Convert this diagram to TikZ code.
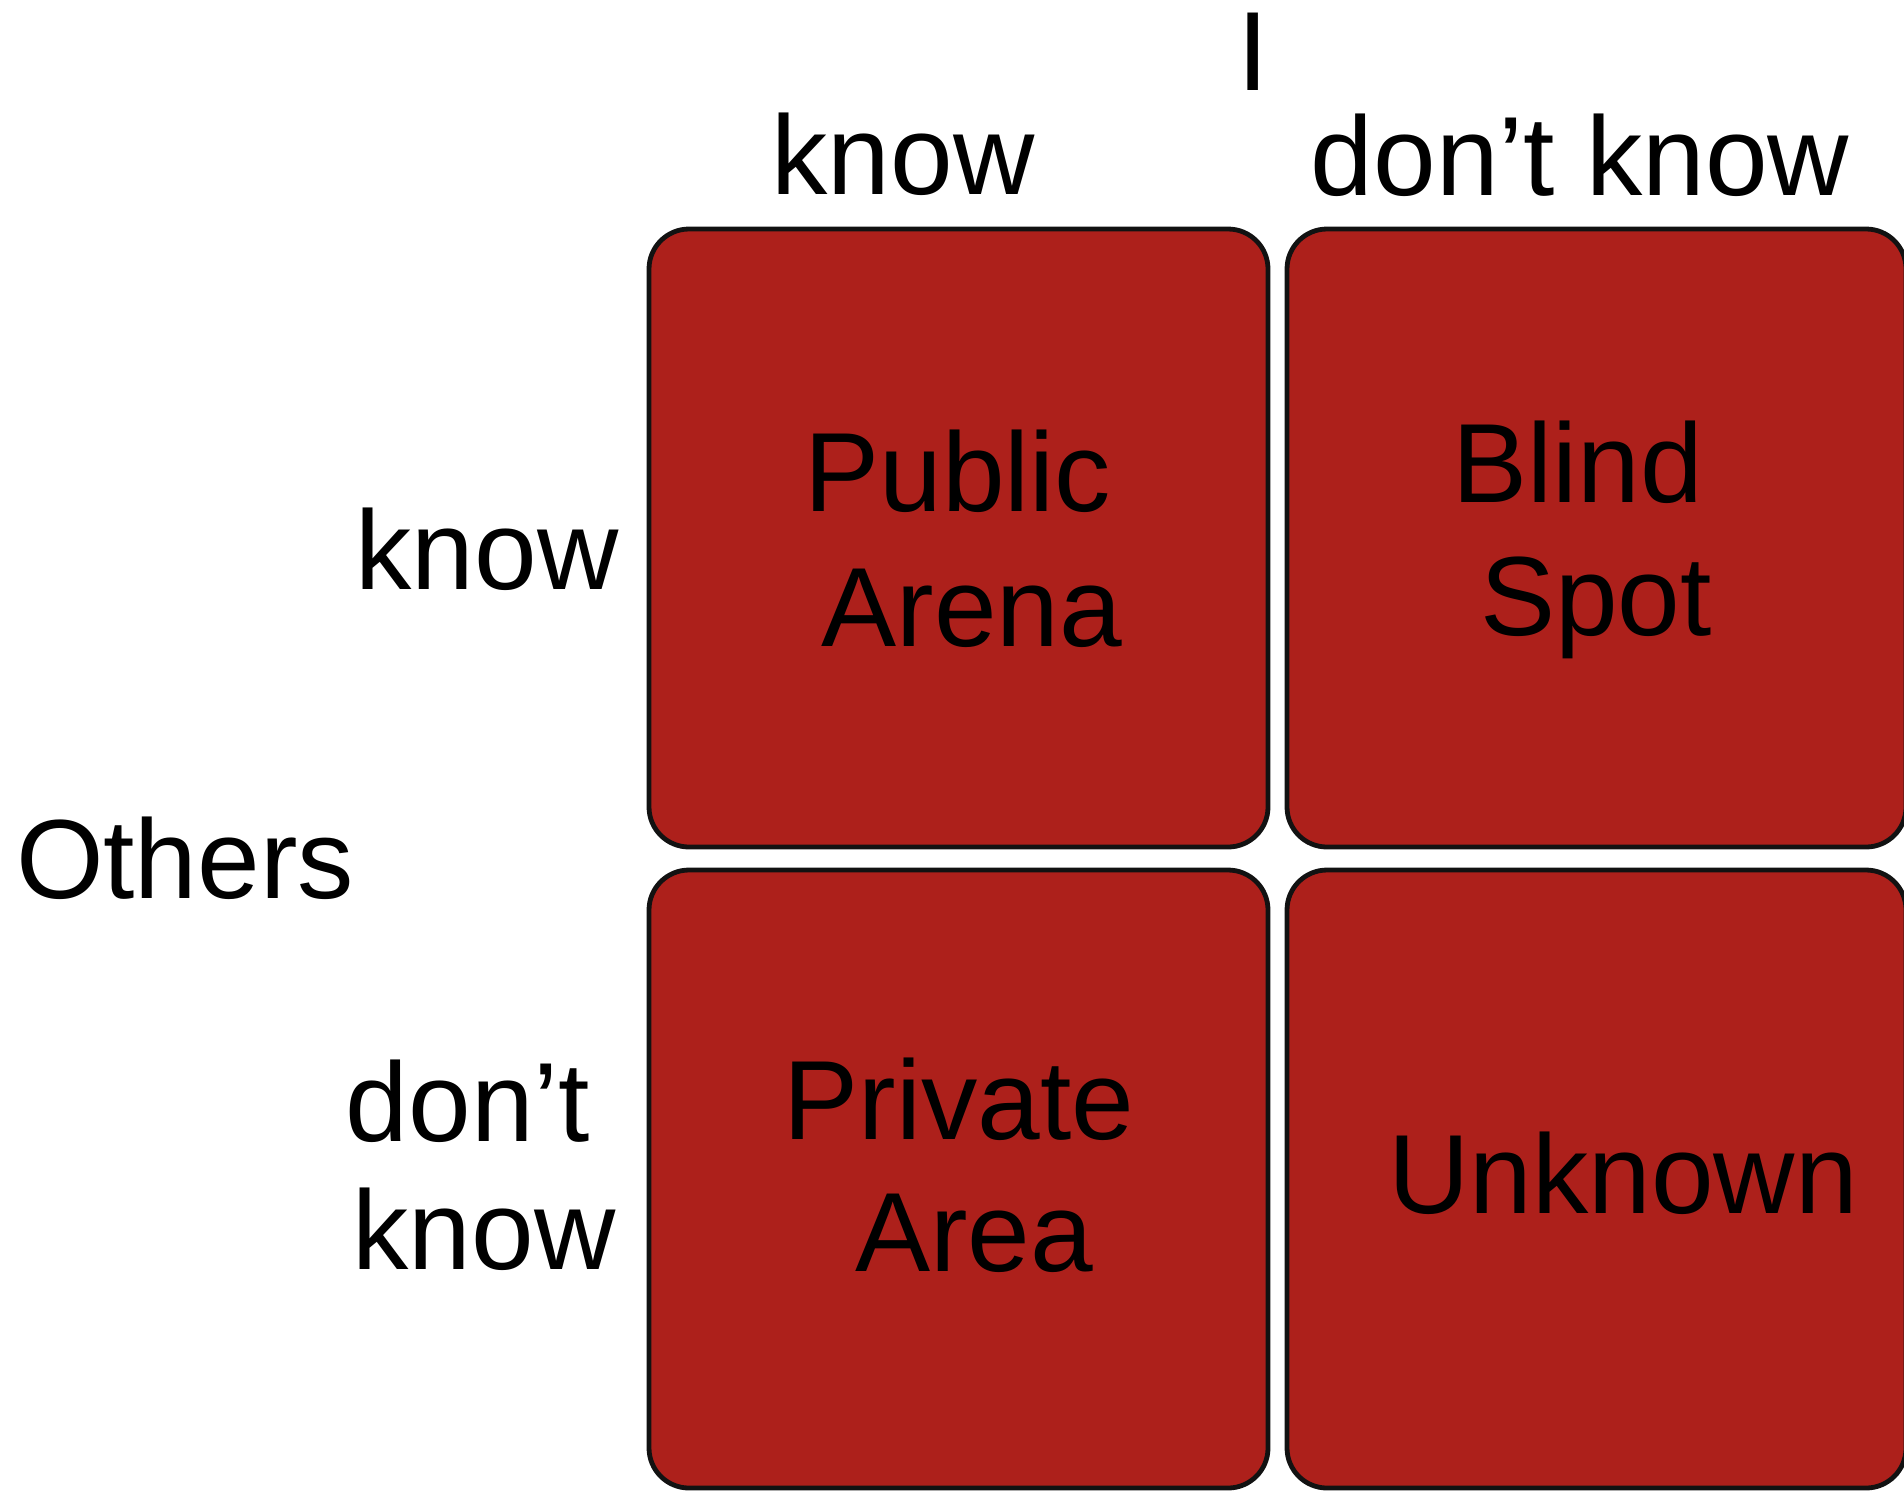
\documentclass[tikz,border=0pt]{standalone}
\usepackage{fontspec}
\setmainfont{Liberation Sans}
\definecolor{boxred}{RGB}{173,32,27}
\definecolor{boxline}{RGB}{18,18,18}
\begin{document}
\begin{tikzpicture}[x=0.5pt,y=-0.5pt,
  cell/.style={draw=boxline,fill=boxred,line width=2.4pt,rounded corners=20pt,
    minimum width=309.5pt,minimum height=309pt,inner sep=0pt},
  lbl/.style={inner sep=0pt,anchor=base,font=\fontsize{56.3}{66}\selectfont}]
\useasboundingbox (0,0) rectangle (1904,1490);
\node[cell] (pa) at (958.5,538) {};
\node[cell] (bs) at (1596.5,538) {};
\node[cell] (pr) at (958.5,1179) {};
\node[cell] (un) at (1596.5,1179) {};
% headers
\node[lbl] (I) at (1253,90) {I};
\node[lbl] (tk) at (903,194) {know};
\node[lbl] (tdk) at (1580,195) {don’t know};
\node[lbl] (lk) at (487,589) {know};
\node[lbl] (oth) at (185,898) {Others};
\node[lbl] (ld) at (468,1141) {don’t};
\node[lbl] (lk2) at (484,1269) {know};
% cell texts
\node[lbl] (t1) at (958,511) {Public};
\node[lbl] (t2) at (972,646) {Arena};
\node[lbl] (t3) at (1578,502) {Blind};
\node[lbl] (t4) at (1596,635) {Spot};
\node[lbl] (t5) at (959,1139) {Private};
\node[lbl] (t6) at (974,1271) {Area};
\node[lbl] (t7) at (1623,1213) {Unknown};
\end{tikzpicture}
\end{document}
